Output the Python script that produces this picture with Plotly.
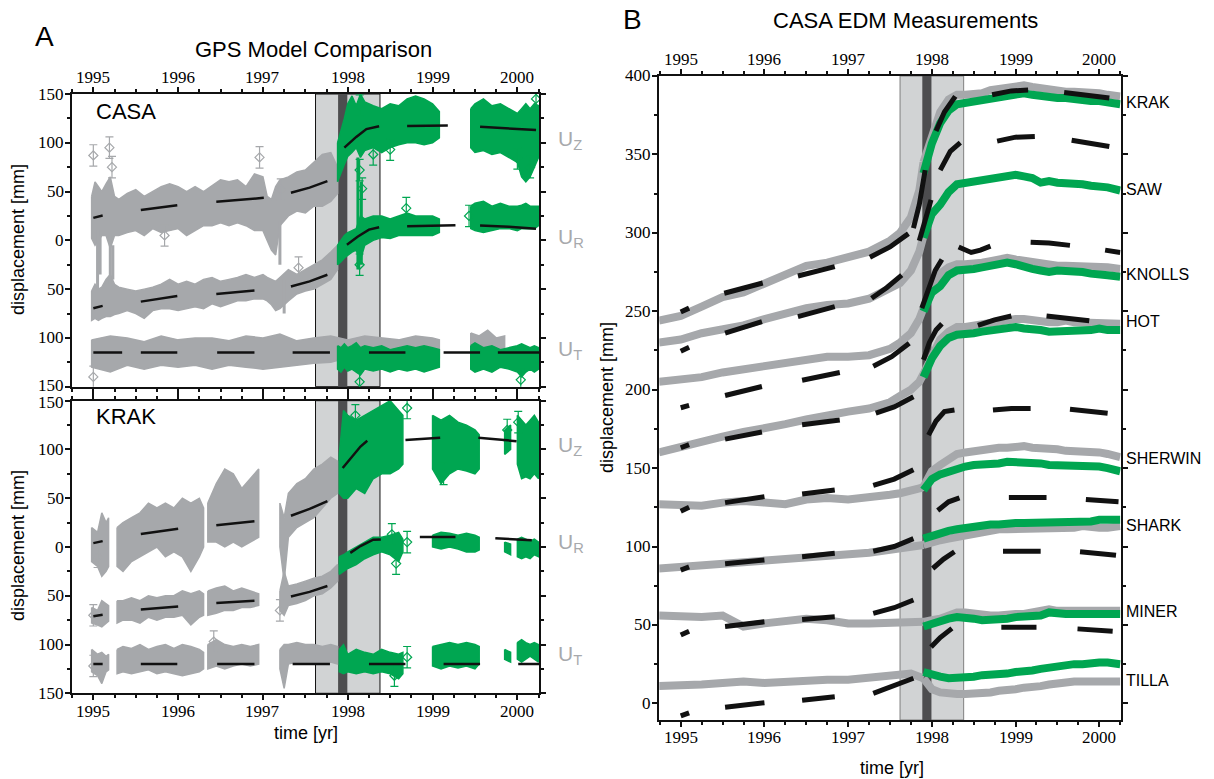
import plotly.graph_objects as go

W, H = 1214, 779

# ---------------- Panel A : GPS (CASA, top) ----------------
CASA_GRAY_T = [1994.98, 1995.02, 1995.06, 1995.1, 1995.15, 1995.2, 1995.25, 1995.3, 1995.4, 1995.5, 1995.6, 1995.7,
               1995.8, 1995.9, 1996.0, 1996.1, 1996.2, 1996.3, 1996.4, 1996.5, 1996.6, 1996.7, 1996.8, 1996.9,
               1997.0, 1997.05, 1997.1, 1997.15, 1997.2, 1997.3, 1997.4, 1997.5, 1997.6, 1997.7, 1997.8, 1997.88]
CASA_UZ_GRAY_HI = [45, 60, 55, 50, 58, 65, 45, 42, 48, 52, 45, 50, 55, 58, 55, 50, 55, 50, 56, 62, 60, 62, 55, 68,
                   65, 45, 42, 55, 62, 65, 70, 72, 80, 88, 90, 75]
CASA_UZ_GRAY_LO = [2, -5, 0, 5, 5, -8, 5, 5, 8, 10, 5, 12, 8, 10, 12, 5, 10, 15, 15, 18, 15, 18, 15, 10,
                   10, 0, -10, -15, 15, 25, 30, 28, 35, 35, 40, 48]
CASA_UR_GRAY_HI = [-52, -45, -50, -48, -40, -35, -45, -48, -50, -52, -50, -48, -45, -40, -45, -42, -45, -40, -38, -42,
                   -40, -38, -35, -38, -35, -38, -40, -42, -38, -30, -35, -30, -25, -20, -12, -5]
CASA_UR_GRAY_LO = [-82, -80, -82, -80, -78, -78, -76, -75, -72, -75, -80, -72, -70, -70, -72, -70, -68, -70, -65, -68,
                   -65, -62, -62, -60, -60, -62, -66, -72, -70, -62, -55, -52, -50, -45, -40, -30]
CASA_UT_GRAY_T = [1994.98, 1995.2, 1995.4, 1995.6, 1995.8, 1996.0, 1996.2, 1996.4, 1996.6, 1996.8, 1997.0, 1997.2,
                  1997.4, 1997.6, 1997.8, 1998.0, 1998.2, 1998.4, 1998.6, 1998.8, 1999.0, 1999.08,
                  None, 1999.45, 1999.55, 1999.65, 1999.75, 1999.85]
CASA_UT_GRAY_HI = [-102, -98, -100, -104, -98, -102, -100, -100, -103, -98, -100, -96, -103, -100, -98, -102, -98,
                   -100, -102, -98, -100, -102, None, -95, -98, -92, -100, -98]
CASA_UT_GRAY_LO = [-130, -135, -128, -132, -128, -130, -128, -132, -128, -130, -132, -130, -128, -126, -125, -120,
                   -118, -118, -120, -118, -118, -120, None, -115, -115, -112, -115, -115]

CASA_GREEN_T = [1997.88, 1997.92, 1997.96, 1998.0, 1998.05, 1998.1, 1998.15, 1998.2, 1998.3, 1998.4, 1998.5, 1998.6,
                1998.7, 1998.8, 1998.9, 1999.0, 1999.08,
                None, 1999.45, 1999.5, 1999.6, 1999.7, 1999.8, 1999.9, 2000.0, 2000.05, 2000.1, 2000.15, 2000.2, 2000.25]
CASA_UZ_GREEN_HI = [100, 112, 125, 140, 148, 138, 150, 142, 138, 135, 140, 138, 145, 148, 145, 140, 132,
                    None, 135, 140, 145, 138, 140, 135, 130, 135, 140, 135, 140, 138]
CASA_UZ_GREEN_LO = [60, 68, 78, 86, 90, 95, 85, 92, 95, 90, 95, 98, 100, 100, 98, 100, 105,
                    None, 95, 90, 92, 88, 90, 85, 80, 65, 60, 65, 75, 85]
CASA_UR_GREEN_HI = [-5, 0, 5, 8, 10, 12, 25, 22, 25, 25, 22, 25, 28, 25, 25, 25, 22,
                    None, 35, 38, 40, 35, 38, 35, 35, 36, 38, 35, 35, 35]
CASA_UR_GREEN_LO = [-25, -22, -18, -15, -12, -10, -20, -5, 0, 3, 2, 5, 5, 5, 5, 5, 8,
                    None, 12, 10, 8, 10, 12, 12, 10, 12, 12, 12, 12, 15]
CASA_UT_GREEN_HI = [-108, -110, -106, -110, -108, -105, -110, -108, -110, -108, -112, -110, -108, -110, -108, -110,
                    -112, None, -108, -105, -110, -108, -112, -110, -108, -106, -108, -110, -108, -110]
CASA_UT_GREEN_LO = [-132, -135, -130, -134, -132, -135, -138, -132, -134, -132, -135, -132, -134, -132, -135, -132,
                    -130, None, -132, -135, -132, -135, -130, -132, -135, -140, -135, -132, -135, -132]

CASA_GRAY_SPIKE_T = [1995.05, 1995.08, 1995.2, 1995.23, 1997.2, 1997.25]
CASA_GRAY_SPIKE_HI = [10, 5, 5, -5, 20, -40]
CASA_GRAY_SPIKE_LO = [-50, -35, -45, -40, -25, -75]
CASA_GREEN_SPIKE_T = [1998.12, 1998.16]
CASA_GREEN_SPIKE_HI = [85, 60]
CASA_GREEN_SPIKE_LO = [-30, -25]

CASA_GRAY_OUT_T = [1995.0, 1995.19, 1995.22, 1996.96, 1997.21, 1997.42, 1995.84, 1995.0]
CASA_GRAY_OUT_Y = [87, 95, 75, 85, 52, -28, 5, -140]
CASA_GREEN_OUT_T = [1998.14, 1998.14, 1998.17, 1998.14, 1998.3, 1998.5, 1998.69, 2000.0, 2000.15, 2000.22, 1999.43,
                    2000.04, 1998.14]
CASA_GREEN_OUT_Y = [138, 72, 53, -25, 88, 93, 33, 84, 75, 145, 25, -143, -145]

CASA_UZ_MODEL_T = [1995.0, 1995.11, None, 1995.56, 1995.99, None, 1996.45, 1997.01, None, 1997.33, 1997.55, 1997.76,
                   None, 1997.96, 1998.1, 1998.22, 1998.37, None, 1998.7, 1998.95, 1999.18, None, 1999.56, 1999.9,
                   2000.22]
CASA_UZ_MODEL = [23, 25.4, None, 31, 36, None, 39.5, 43.6, None, 48.8, 54, 60.7, None, 95, 106, 114, 117, None,
                 117.3, 117.8, 117.8, None, 116.5, 115, 113]
CASA_UR_MODEL_T = [1995.0, 1995.11, None, 1995.56, 1995.99, None, 1996.45, 1996.9, None, 1997.33, 1997.55, 1997.76,
                   None, 1997.99, 1998.12, 1998.25, 1998.37, None, 1998.7, 1999.0, 1999.27, None, 1999.56, 1999.9,
                   2000.22]
CASA_UR_MODEL = [-69.6, -67.2, None, -62.8, -57, None, -55, -51.5, None, -47.3, -42, -35.3, None, -4.4, 4, 11, 13.4,
                 None, 14.4, 15.2, 15.4, None, 15.2, 14, 12]
CASA_UT_MODEL_T = [1995.0, 1995.34, None, 1995.56, 1995.99, None, 1996.46, 1996.9, None, 1997.35, 1997.79, None,
                   1998.25, 1998.68, None, 1999.13, 1999.56, None, 1999.77, 2000.26]
CASA_UT_MODEL = [-115, -115, None, -115, -115, None, -115, -115, None, -115, -115, None, -115, -115, None, -115,
                 -115, None, -115, -115]

# ---------------- Panel A : GPS (KRAK, bottom) ----------------
KRAK_GRAY_T = [1994.98, 1995.05, 1995.1, 1995.15, 1995.18, None,
               1995.28, 1995.35, 1995.45, 1995.55, 1995.65, 1995.75, 1995.85, 1995.95, 1996.05, 1996.15, 1996.25,
               1996.3, None,
               1996.35, 1996.45, 1996.55, 1996.65, 1996.75, 1996.85, 1996.95, None,
               1997.2, 1997.25, 1997.3, 1997.4, 1997.5, 1997.6, 1997.7, 1997.8, 1997.88]
KRAK_UZ_GRAY_HI = [20, 15, 35, 25, 30, None, 20, 25, 30, 35, 45, 40, 45, 40, 50, 45, 50, 40, None,
                   45, 65, 80, 75, 60, 70, 80, None, 45, 30, 55, 65, 70, 80, 85, 92, 88]
KRAK_UZ_GRAY_LO = [-15, -20, -30, -25, -20, None, -20, -25, -15, -10, -5, 0, -10, -5, -10, -25, -10, 0, None,
                   5, 5, 0, 5, 0, 5, 10, None, 0, -35, 10, 20, 25, 30, 40, 50, 55]
KRAK_UR_GRAY_HI = [-62, -65, -55, -58, -60, None, -55, -55, -52, -55, -50, -52, -50, -50, -45, -48, -45, -48, None,
                   -45, -42, -40, -45, -42, -45, -48, None, -45, -25, -40, -38, -35, -32, -30, -25, -18]
KRAK_UR_GRAY_LO = [-78, -80, -82, -78, -76, None, -78, -75, -75, -78, -72, -75, -72, -72, -70, -80, -72, -70, None,
                   -70, -68, -65, -65, -62, -62, -60, None, -65, -70, -60, -58, -55, -50, -48, -42, -35]
KRAK_UT_GRAY_HI = [-105, -110, -108, -112, -110, None, -105, -102, -104, -100, -105, -102, -100, -104, -100, -102,
                   -105, -108, None, -100, -95, -100, -102, -100, -102, -100, None,
                   -105, -100, -100, -98, -100, -100, -102, -100, -102]
KRAK_UT_GRAY_LO = [-128, -132, -140, -128, -126, None, -130, -128, -130, -128, -126, -130, -128, -130, -132, -130,
                   -128, -125, None, -125, -122, -125, -122, -120, -122, -120, None,
                   -125, -145, -120, -118, -120, -118, -120, -118, -120]

KRAK_GREEN_T = [1997.9, 1997.95, 1998.0, 1998.1, 1998.2, 1998.3, 1998.4, 1998.5, 1998.6, 1998.65, None,
                1999.0, 1999.1, 1999.2, 1999.3, 1999.4, 1999.5, 1999.55, None, 1999.85, 1999.92, None,
                2000.0, 2000.05, 2000.1, 2000.15, 2000.2, 2000.25]
KRAK_UZ_GREEN_HI = [95, 140, 135, 130, 135, 140, 145, 150, 140, 135, None, 135, 130, 135, 128, 125, 120, 115, None,
                    120, 125, None, 135, 130, 125, 130, 135, 128]
KRAK_UZ_GREEN_LO = [55, 50, 50, 60, 55, 70, 75, 75, 80, 85, None, 80, 65, 75, 80, 78, 75, 80, None, 95, 100, None,
                    85, 70, 72, 70, 75, 70]
KRAK_UR_GREEN_HI = [-10, -8, -5, 0, 5, 10, 10, 12, 15, 8, None, 12, 15, 14, 12, 14, 12, 10, None, 5, 3, None,
                    8, 10, 8, 6, 8, 5]
KRAK_UR_GREEN_LO = [-28, -25, -22, -18, -12, -8, -5, -8, -15, -5, None, 0, -2, 0, -2, -5, -5, -3, None, -5, -8, None,
                    -10, -12, -10, -12, -8, -10]
KRAK_UT_GREEN_HI = [-105, -100, -110, -105, -108, -110, -105, -108, -110, -108, None, -102, -100, -98, -100, -98,
                    -100, -102, None, -105, -108, None, -98, -95, -98, -100, -98, -100]
KRAK_UT_GREEN_LO = [-128, -130, -128, -130, -128, -130, -128, -130, -135, -130, None, -122, -125, -122, -124, -122,
                    -125, -120, None, -115, -118, None, -115, -118, -115, -112, -115, -118]

KRAK_GRAY_OUT_T = [1995.0, 1996.42, 1997.2, 1995.05, 1995.0]
KRAK_GRAY_OUT_Y = [-122, -97, -65, -10, -70]
KRAK_GREEN_OUT_T = [1998.7, 1998.09, 1998.57, 1998.7, 1998.55, 1998.7, 1999.13, 1999.88, 2000.01, 1998.52]
KRAK_GREEN_OUT_Y = [142.5, 135, -17, 5, -132, -113, 75, 120, 128, 13]

KRAK_UZ_MODEL_T = [1995.0, 1995.11, None, 1995.56, 1996.0, None, 1996.45, 1996.9, None, 1997.33, 1997.55, 1997.76,
                   None, 1997.94, 1998.05, 1998.15, 1998.23, None, 1998.68, 1998.88, 1999.09, None, 1999.54, 1999.75,
                   1999.99]
KRAK_UZ_MODEL = [4, 6, None, 13.4, 18.8, None, 22.3, 26.4, None, 32, 39, 47, None, 81, 93, 103, 109, None, 109.6,
                 111, 112, None, 112, 110.5, 108.5]
KRAK_UR_MODEL_T = [1995.0, 1995.11, None, 1995.56, 1996.0, None, 1996.45, 1996.9, None, 1997.33, 1997.55, 1997.76,
                   None, 1998.03, 1998.15, 1998.3, 1998.39, None, 1998.85, 1999.27, None, 1999.74, 2000.17]
KRAK_UR_MODEL = [-71, -69.5, None, -64, -61, None, -57.5, -55, None, -50.7, -46, -40, None, -6, 1, 7.5, 7.8, None,
                 10.3, 10.3, None, 9, 6.8]
KRAK_UT_MODEL_T = [1995.0, 1995.11, None, 1995.56, 1995.99, None, 1996.46, 1996.9, None, 1997.35, 1997.79, None,
                   1998.25, 1998.68, None, 1999.13, 1999.56, None, 2000.01, 2000.26]
KRAK_UT_MODEL = [-120, -120, None, -120, -120, None, -120, -120, None, -120, -120, None, -120, -120, None, -120,
                 -120, None, -120, -120]

# ---------------- Panel B : EDM ----------------
EDM_PRE_T = [1994.74, 1995.0, 1995.25, 1995.5, 1995.75, 1996.0, 1996.25, 1996.5, 1996.75, 1997.0, 1997.25, 1997.5,
             1997.62, 1997.75, 1997.85, 1997.9]
EDM_POST_T = [1997.9, 1997.95, 1998.0, 1998.1, 1998.2, 1998.3, 1998.4, 1998.5, 1998.6, 1998.7, 1998.8, 1998.9,
              1999.0, 1999.1, 1999.2, 1999.3, 1999.4, 1999.5, 1999.6, 1999.7, 1999.8, 1999.9, 2000.0, 2000.1, 2000.25]
STATIONS = ["KRAK", "SAW", "KNOLLS", "HOT", "SHERWIN", "SHARK", "MINER", "TILLA"]
STATION_LABEL_Y = [383.3, 327.4, 273.2, 243.4, 156.2, 113.7, 58.4, 14.9]

KRAK_GRAY_PRE = [244, 247, 253, 259, 262, 268, 273, 279, 281, 284, 288, 295, 300, 310, 327, 345]
KRAK_GRAY_POST = [345, 354, 362, 377, 385, 388, 388, 388, 389, 391, 392, 393, 394, 394, 393, 392, 391, 391, 390, 390,
                  390, 389, 389, 388, 387]
KRAK_GREEN_POST = [338, 348, 357, 370, 378, 382, 383, 383, 384, 385, 387, 388, 389, 389, 388, 387, 386, 386, 386, 385,
                   385, 384, 384, 383, 382]
SAW_GRAY_PRE = [230, 232, 236, 238, 241, 245, 249, 252, 254, 255, 258, 264, 268, 276, 288, 298]
SAW_GRAY_POST = None
SAW_GREEN_POST = [297, 305, 312, 318, 326, 331, 332, 333, 334, 335, 336, 337, 337, 336, 335, 332, 333, 332, 332, 331,
                  331, 330, 330, 329, 327]
KNOLLS_GRAY_PRE = [205, 206, 208, 211, 213, 216, 218, 220, 221, 221, 222, 226, 230, 236, 245, 252]
KNOLLS_GRAY_POST = [252, 258, 265, 274, 278, 280, 280, 280, 281, 282, 283, 284, 283, 282, 281, 280, 279, 279, 279, 279,
                    279, 278, 279, 278, 277]
KNOLLS_GREEN_POST = [250, 256, 262, 266, 273, 276, 276, 277, 278, 279, 280, 281, 280, 278, 277, 276, 275, 276, 276,
                     275, 275, 274, 274, 273, 272]
HOT_GRAY_PRE = [160, 163, 167, 170, 173, 175, 178, 181, 184, 186, 188, 192, 196, 200, 205, 210]
HOT_GRAY_POST = [210, 216, 222, 232, 237, 240, 240, 241, 242, 243, 244, 245, 245, 245, 244, 243, 243, 243, 244, 243,
                 243, 243, 243, 243, 242]
HOT_GREEN_POST = [208, 214, 220, 228, 233, 235, 235, 236, 237, 238, 239, 240, 240, 239, 239, 238, 237, 237, 238, 238,
                  238, 238, 239, 238, 238]
SHERWIN_GRAY_PRE = [127, 127, 126, 128, 129, 128, 127, 130, 131, 130, 131, 133, 134, 135, 137, 138]
SHERWIN_GRAY_POST = [138, 143, 148, 152, 156, 159, 160, 161, 162, 163, 163, 163, 164, 164, 163, 163, 162, 162, 161,
                     161, 161, 161, 160, 159, 157]
SHERWIN_GREEN_POST = [136, 140, 143, 146, 148, 150, 151, 152, 152, 153, 153, 154, 154, 154, 153, 153, 152, 152, 152,
                      151, 151, 151, 151, 150, 148]
SHARK_GRAY_PRE = [86, 87, 88, 89, 90, 91, 92, 94, 94, 95, 96, 98, 99, 100, 101, 101]
SHARK_GRAY_POST = [101, 102, 103, 104, 105, 106, 108, 109, 110, 110, 111, 111, 111, 111, 111, 111, 112, 112, 112, 112,
                   113, 112, 112, 112, 113]
SHARK_GREEN_POST = [105, 106, 107, 108, 110, 111, 112, 113, 113, 114, 114, 115, 115, 115, 115, 115, 115, 115, 116,
                    116, 116, 116, 117, 117, 117]
MINER_GRAY_PRE = [56, 55, 55, 56, 49, 51, 52, 54, 53, 51, 51, 51, 51, 51, 52, 52]
MINER_GRAY_POST = [52, 52, 53, 54, 56, 58, 58, 57, 56, 56, 56, 57, 57, 57, 58, 58, 60, 59, 59, 59, 59, 59, 59, 59, 59]
MINER_GREEN_POST = [49, 50, 51, 52, 54, 55, 55, 54, 53, 53, 53, 54, 55, 55, 56, 56, 58, 57, 57, 57, 57, 57, 57, 57, 57]
TILLA_GRAY_PRE = [11, 11, 12, 13, 14, 13, 14, 15, 15, 15, 16, 17, 18, 19, 17, 16]
TILLA_GRAY_POST = [16, 12, 9, 7, 6, 6, 6, 6, 7, 7, 8, 8, 9, 10, 10, 11, 12, 13, 13, 14, 14, 14, 14, 14, 14]
TILLA_GREEN_POST = [20, 19, 18, 17, 16, 16, 17, 17, 18, 18, 19, 19, 20, 20, 21, 22, 23, 24, 24, 25, 25, 26, 26, 26, 25]

KRAK_M_T = [1995.0, 1995.1, None, 1995.52, 1995.75, 1995.98, None, 1996.4, 1996.62, 1996.84, None, 1997.26, 1997.5,
            1997.72, None, 1997.78, 1997.85, 1997.92, None, 1998.05, 1998.15, 1998.28, None, 1998.72, 1998.95,
            1999.15, None, 1999.58, 1999.85, 2000.12]
KRAK_M = [249.5, 252, None, 261.5, 265, 268, None, 272.5, 275.5, 278.5, None, 284.5, 291, 299.5, None, 303, 318, 340,
          None, 365, 377, 387, None, 388, 390.5, 391, None, 389.5, 388, 386]
SAW_M_T = [1995.0, 1995.1, None, 1995.53, 1995.75, 1995.97, None, 1996.4, 1996.62, 1996.84, None, 1997.28, 1997.46,
           1997.64, None, 1997.85, 1997.92, 1997.99, None, 1998.1, 1998.22, 1998.34, None, 1998.78, 1999.0, 1999.23,
           None, 1999.67, 1999.9, 2000.12]
SAW_M = [224.5, 227, None, 236, 240, 243.4, None, 246.6, 250, 253, None, 258.3, 265, 273, None, 295, 308, 321, None,
         340, 352, 357.5, None, 358.5, 361, 361.5, None, 359, 357, 355]
KNOLLS_M_T = [1995.0, 1995.1, None, 1995.53, 1995.75, 1995.97, None, 1996.45, 1996.67, 1996.9, None, 1997.3, 1997.52,
              1997.73, None, 1997.88, 1997.96, 1998.04, 1998.12, None, 1998.32, 1998.4, 1998.47, 1998.58, 1998.7,
              None, 1999.18, 1999.4, 1999.65, None, 2000.07, 2000.25]
KNOLLS_M = [188.5, 190, None, 196.3, 199, 202, None, 206, 208.5, 211, None, 215, 221, 229.6, None, 252, 265, 276, 283,
            None, 291, 289, 287.5, 289, 291.5, None, 294, 293.5, 292, None, 289, 287.5]
HOT_M_T = [1995.0, 1995.1, None, 1995.53, 1995.75, 1995.97, None, 1996.45, 1996.67, 1996.9, None, 1997.33, 1997.55,
           1997.78, None, 1997.9, 1997.97, 1998.05, 1998.12, None, 1998.55, 1998.75, 1998.95, None, 1999.37, 1999.6,
           1999.88]
HOT_M = [163, 165, None, 168.5, 171, 173, None, 177.6, 179, 180.7, None, 185, 189, 195.5, None, 219, 230, 238, 242,
         None, 241, 244.5, 247, None, 247, 246, 244]
SHERWIN_M_T = [1995.0, 1995.1, None, 1995.53, 1995.75, 1996.0, None, 1996.45, 1996.65, 1996.84, None, 1997.3, 1997.55,
               1997.78, None, 1997.96, 1998.05, 1998.15, 1998.27, None, 1998.73, 1998.95, 1999.18, None, 1999.65,
               1999.88, 2000.1]
SHERWIN_M = [122.5, 125, None, 128, 130, 131.8, None, 133.5, 135, 136, None, 139, 143, 149, None, 171, 180, 186, 187,
             None, 187, 188, 188, None, 187.5, 186.5, 185]
SHARK_M_T = [1995.0, 1995.1, None, 1995.53, 1995.75, 1996.0, None, 1996.45, 1996.65, 1996.84, None, 1997.3, 1997.55,
             1997.78, None, 1998.07, 1998.2, 1998.33, None, 1998.92, 1999.15, 1999.37, None, 1999.84, 2000.05, 2000.23]
SHARK_M = [85, 87, None, 89, 90, 91.4, None, 93.5, 94.5, 95.7, None, 97, 100, 105, None, 123, 128.5, 131, None, 131.3,
           131.3, 131.3, None, 130, 129.3, 128.5]
MINER_M_T = [1995.0, 1995.1, None, 1995.53, 1995.75, 1996.0, None, 1996.45, 1996.65, 1996.84, None, 1997.3, 1997.55,
             1997.78, None, 1998.01, 1998.14, 1998.27, None, 1998.85, 1999.07, 1999.3, None, 1999.77, 2000.0, 2000.2]
MINER_M = [43.6, 46, None, 49, 50.5, 52, None, 53.5, 54.5, 55.2, None, 57.4, 61, 65.9, None, 86, 92, 96.7, None, 97,
           97.2, 97, None, 96.7, 95.5, 94.5]
TILLA_M_T = [1995.0, 1995.1, None, 1995.53, 1995.75, 1996.0, None, 1996.45, 1996.65, 1996.84, None, 1997.3, 1997.55,
             1997.78, None, 1997.99, 1998.1, 1998.24, None, 1998.83, 1999.05, 1999.25, None, 1999.74, 1999.95, 2000.16]
TILLA_M = [-8, -6, None, -2.5, -1, 0.4, None, 2, 3, 4.2, None, 6.4, 11, 16, None, 36, 42, 47.8, None, 48.6, 48.8,
           48.6, None, 47.5, 46.8, 46]

# event shading (years)
LIGHT_BAND = [1997.62, 1998.38]
DARK_BAND = [1997.886, 1997.995]

YEARS = [1995, 1996, 1997, 1998, 1999, 2000]
A_YTICKS = [-150, -100, -50, 0, 50, 100, 150]
A_YTICKTEXT = ["150", "100", "50", "0", "50", "100", "150"]
B_YTICKS = [0, 50, 100, 150, 200, 250, 300, 350, 400]

# ---------------- styles ----------------
GRAY = "#a6a8ab"
GREEN = "#00a651"
LIGHT = "#d1d3d4"
DARK = "#4d4d4f"
BLACK = "#111111"
SERIF = "'Times New Roman', 'Liberation Serif', Times, serif"
SANS = "Arial, 'Liberation Sans', Helvetica, sans-serif"

fig = go.Figure()


def segments(t, *vals):
    segs, cur = [], []
    for i, tv in enumerate(t):
        if tv is None:
            if cur:
                segs.append(cur)
            cur = []
        else:
            cur.append([tv] + [v[i] for v in vals])
    if cur:
        segs.append(cur)
    return segs


def add_band(t, hi, lo, color, xa, ya):
    xs, ys = [], []
    for seg in segments(t, hi, lo):
        ts = [s[0] for s in seg]
        h = [s[1] for s in seg]
        l = [s[2] for s in seg]
        xs += ts + ts[::-1] + [ts[0], None]
        ys += h + l[::-1] + [h[0], None]
    fig.add_trace(go.Scatter(x=xs, y=ys, mode="lines", fill="toself", fillcolor=color,
                             line=dict(color=color, width=1.5), xaxis=xa, yaxis=ya,
                             hoverinfo="skip", showlegend=False))


def add_spikes(t, hi, lo, color, xa, ya):
    xs, ys = [], []
    for a, b, c in zip(t, hi, lo):
        xs += [a, a, None]
        ys += [b, c, None]
    fig.add_trace(go.Scatter(x=xs, y=ys, mode="lines", line=dict(color=color, width=3),
                             xaxis=xa, yaxis=ya, hoverinfo="skip", showlegend=False))


def add_outliers(t, y, color, xa, ya):
    fig.add_trace(go.Scatter(x=t, y=y, mode="markers",
                             marker=dict(symbol="diamond-open", size=7, color=color, line=dict(width=1.2)),
                             error_y=dict(type="constant", value=11, color=color, thickness=1.2, width=4),
                             xaxis=xa, yaxis=ya, hoverinfo="skip", showlegend=False))


def add_line(t, y, color, width, xa, ya):
    fig.add_trace(go.Scatter(x=t, y=y, mode="lines", line=dict(color=color, width=width),
                             xaxis=xa, yaxis=ya, connectgaps=False, hoverinfo="skip", showlegend=False))


add_band(CASA_GRAY_T, CASA_UZ_GRAY_HI, CASA_UZ_GRAY_LO, GRAY, "x", "y")
add_band(CASA_GRAY_T, CASA_UR_GRAY_HI, CASA_UR_GRAY_LO, GRAY, "x", "y")
add_band(CASA_UT_GRAY_T, CASA_UT_GRAY_HI, CASA_UT_GRAY_LO, GRAY, "x", "y")
add_spikes(CASA_GRAY_SPIKE_T, CASA_GRAY_SPIKE_HI, CASA_GRAY_SPIKE_LO, GRAY, "x", "y")
add_outliers(CASA_GRAY_OUT_T, CASA_GRAY_OUT_Y, GRAY, "x", "y")
add_band(CASA_GREEN_T, CASA_UZ_GREEN_HI, CASA_UZ_GREEN_LO, GREEN, "x", "y")
add_band(CASA_GREEN_T, CASA_UR_GREEN_HI, CASA_UR_GREEN_LO, GREEN, "x", "y")
add_band(CASA_GREEN_T, CASA_UT_GREEN_HI, CASA_UT_GREEN_LO, GREEN, "x", "y")
add_spikes(CASA_GREEN_SPIKE_T, CASA_GREEN_SPIKE_HI, CASA_GREEN_SPIKE_LO, GREEN, "x", "y")
add_outliers(CASA_GREEN_OUT_T, CASA_GREEN_OUT_Y, GREEN, "x", "y")
add_line(CASA_UZ_MODEL_T, CASA_UZ_MODEL, BLACK, 2.5, "x", "y")
add_line(CASA_UR_MODEL_T, CASA_UR_MODEL, BLACK, 2.5, "x", "y")
add_line(CASA_UT_MODEL_T, CASA_UT_MODEL, BLACK, 2.5, "x", "y")

add_band(KRAK_GRAY_T, KRAK_UZ_GRAY_HI, KRAK_UZ_GRAY_LO, GRAY, "x2", "y2")
add_band(KRAK_GRAY_T, KRAK_UR_GRAY_HI, KRAK_UR_GRAY_LO, GRAY, "x2", "y2")
add_band(KRAK_GRAY_T, KRAK_UT_GRAY_HI, KRAK_UT_GRAY_LO, GRAY, "x2", "y2")
add_outliers(KRAK_GRAY_OUT_T, KRAK_GRAY_OUT_Y, GRAY, "x2", "y2")
add_band(KRAK_GREEN_T, KRAK_UZ_GREEN_HI, KRAK_UZ_GREEN_LO, GREEN, "x2", "y2")
add_band(KRAK_GREEN_T, KRAK_UR_GREEN_HI, KRAK_UR_GREEN_LO, GREEN, "x2", "y2")
add_band(KRAK_GREEN_T, KRAK_UT_GREEN_HI, KRAK_UT_GREEN_LO, GREEN, "x2", "y2")
add_outliers(KRAK_GREEN_OUT_T, KRAK_GREEN_OUT_Y, GREEN, "x2", "y2")
add_line(KRAK_UZ_MODEL_T, KRAK_UZ_MODEL, BLACK, 2.5, "x2", "y2")
add_line(KRAK_UR_MODEL_T, KRAK_UR_MODEL, BLACK, 2.5, "x2", "y2")
add_line(KRAK_UT_MODEL_T, KRAK_UT_MODEL, BLACK, 2.5, "x2", "y2")

edm = [
    (KRAK_GRAY_PRE, KRAK_GRAY_POST, KRAK_GREEN_POST, KRAK_M_T, KRAK_M),
    (SAW_GRAY_PRE, SAW_GRAY_POST, SAW_GREEN_POST, SAW_M_T, SAW_M),
    (KNOLLS_GRAY_PRE, KNOLLS_GRAY_POST, KNOLLS_GREEN_POST, KNOLLS_M_T, KNOLLS_M),
    (HOT_GRAY_PRE, HOT_GRAY_POST, HOT_GREEN_POST, HOT_M_T, HOT_M),
    (SHERWIN_GRAY_PRE, SHERWIN_GRAY_POST, SHERWIN_GREEN_POST, SHERWIN_M_T, SHERWIN_M),
    (SHARK_GRAY_PRE, SHARK_GRAY_POST, SHARK_GREEN_POST, SHARK_M_T, SHARK_M),
    (MINER_GRAY_PRE, MINER_GRAY_POST, MINER_GREEN_POST, MINER_M_T, MINER_M),
    (TILLA_GRAY_PRE, TILLA_GRAY_POST, TILLA_GREEN_POST, TILLA_M_T, TILLA_M),
]
for gpre, gpost, grn, mt, m in edm:
    add_line(EDM_PRE_T, gpre, GRAY, 8, "x3", "y3")
    if gpost is not None:
        add_line(EDM_POST_T, gpost, GRAY, 8, "x3", "y3")
for gpre, gpost, grn, mt, m in edm:
    add_line(EDM_POST_T, grn, GREEN, 8, "x3", "y3")
for gpre, gpost, grn, mt, m in edm:
    add_line(mt, m, BLACK, 5, "x3", "y3")

shapes = []
for xr, yr, edge in [("x", "y", BLACK), ("x2", "y2", BLACK), ("x3", "y3", "#7f7f7f")]:
    shapes.append(dict(type="rect", xref=xr, yref=yr + " domain", x0=LIGHT_BAND[0], x1=LIGHT_BAND[1], y0=0, y1=1,
                       fillcolor=LIGHT, line=dict(color=edge, width=1), layer="below"))
    shapes.append(dict(type="rect", xref=xr, yref=yr + " domain", x0=DARK_BAND[0], x1=DARK_BAND[1], y0=0, y1=1,
                       fillcolor=DARK, line=dict(width=0), layer="below"))


def xax(domain, anchor, side, rng):
    return dict(domain=domain, anchor=anchor, side=side, range=rng, tickmode="array", tickvals=YEARS,
                showticklabels=False, ticks="outside", ticklen=5, tickwidth=2, tickcolor=BLACK, automargin=False,
                showline=True, linewidth=2, linecolor=BLACK, mirror="ticks", showgrid=False, zeroline=False,
                minor=dict(ticks="outside", ticklen=3, tickwidth=1.5, tickcolor=BLACK, dtick=0.25, tick0=1995,
                           showgrid=False))


def yax_a(domain, anchor):
    return dict(domain=domain, anchor=anchor, range=[-150, 150], tickmode="array", tickvals=A_YTICKS,
                showticklabels=False, ticks="outside", ticklen=5, tickwidth=2, tickcolor=BLACK, automargin=False,
                showline=True, linewidth=2, linecolor=BLACK, mirror="ticks", showgrid=False, zeroline=False,
                minor=dict(ticks="outside", ticklen=3, tickwidth=1.5, tickcolor=BLACK,
                           tickmode="array", tickvals=[-125, -75, -25, 25, 75, 125], showgrid=False))


XA = [71.7 / W, 539 / W]
XB = [659.3 / W, 1120.7 / W]
RNG_A = [1994.745, 2000.255]
RNG_B = [1994.744, 2000.256]

fig.update_layout(
    template="none",
    width=W, height=H, autosize=False, margin=dict(l=0, r=0, t=0, b=0, pad=0),
    paper_bgcolor="white", plot_bgcolor="rgba(0,0,0,0)", showlegend=False,
    font=dict(family=SANS, size=16, color="black"),
    xaxis=xax(XA, "y", "top", RNG_A),
    yaxis=yax_a([1 - 386.7 / H, 1 - 94 / H], "x"),
    xaxis2=xax(XA, "y2", "bottom", RNG_A),
    yaxis2=yax_a([1 - 693.3 / H, 1 - 400.7 / H], "x2"),
    xaxis3=xax(XB, "y3", "bottom", RNG_B),
    yaxis3=dict(domain=[1 - 720 / H, 1 - 76 / H], anchor="x3", range=[-10.6, 400], tickmode="array",
                tickvals=B_YTICKS, showticklabels=False, ticks="outside", ticklen=5, tickwidth=2, tickcolor=BLACK,
                automargin=False,
                showline=True, linewidth=2, linecolor=BLACK, mirror="ticks", showgrid=False, zeroline=False,
                minor=dict(ticks="outside", ticklen=3, tickwidth=1.5, tickcolor=BLACK, dtick=25, tick0=0,
                           showgrid=False)),
    shapes=shapes,
)

ann = []


def txt(x, y, s, size, color="black", xanchor="center", angle=0, family=SANS):
    ann.append(dict(x=x / W, y=1 - y / H, xref="paper", yref="paper", text=s, showarrow=False,
                    font=dict(family=family, size=size, color=color), xanchor=xanchor, yanchor="middle",
                    textangle=angle))


TF = dict(family=SERIF, size=17, color="black")
for xref, ypix in [("x", 77.5), ("x2", 711.7), ("x3", 59.2), ("x3", 737.5)]:
    for yr in YEARS:
        ann.append(dict(x=yr, y=1 - ypix / H, xref=xref, yref="paper", text=str(yr), showarrow=False, font=TF,
                        xanchor="center", yanchor="middle", borderpad=0))
for yref, shift in [("y", {-150: 1.5}), ("y2", {150: -1.5})]:
    for v, s in zip(A_YTICKS, A_YTICKTEXT):
        ann.append(dict(x=65 / W, y=v, xref="paper", yref=yref, text=s, showarrow=False, font=TF,
                        xanchor="right", yanchor="middle", borderpad=0, yshift=shift.get(v, 0)))
for v in B_YTICKS:
    ann.append(dict(x=652 / W, y=v, xref="paper", yref="y3", text=str(v), showarrow=False, font=TF,
                    xanchor="right", yanchor="middle", borderpad=0))

txt(44, 36, "A", 28)
txt(313, 49, "GPS Model Comparison", 22)
txt(632, 19, "B", 28)
txt(905, 21, "CASA EDM Measurements", 22)
txt(94, 111, "CASA", 22, xanchor="left")
txt(94, 417, "KRAK", 22, xanchor="left")
UCOL = "#a7a9ac"
for yy, sub in [(140, "Z"), (238, "R"), (350, "T"), (446, "Z"), (543, "R"), (655, "T")]:
    txt(556, yy, "U<sub>" + sub + "</sub>", 21, color=UCOL, xanchor="left")
txt(18, 240, "displacement [mm]", 18, angle=-90)
txt(18, 546, "displacement [mm]", 18, angle=-90)
txt(306, 733, "time [yr]", 18)
txt(607, 398, "displacement [mm]", 18, angle=-90)
txt(892, 768, "time [yr]", 18)
for name, val in zip(STATIONS, STATION_LABEL_Y):
    ann.append(dict(x=1124 / W, y=val, xref="paper", yref="y3", text=name, showarrow=False,
                    font=dict(family=SANS, size=16, color="black"), xanchor="left", yanchor="middle"))
fig.update_layout(annotations=ann)

fig.write_html("out.html")
